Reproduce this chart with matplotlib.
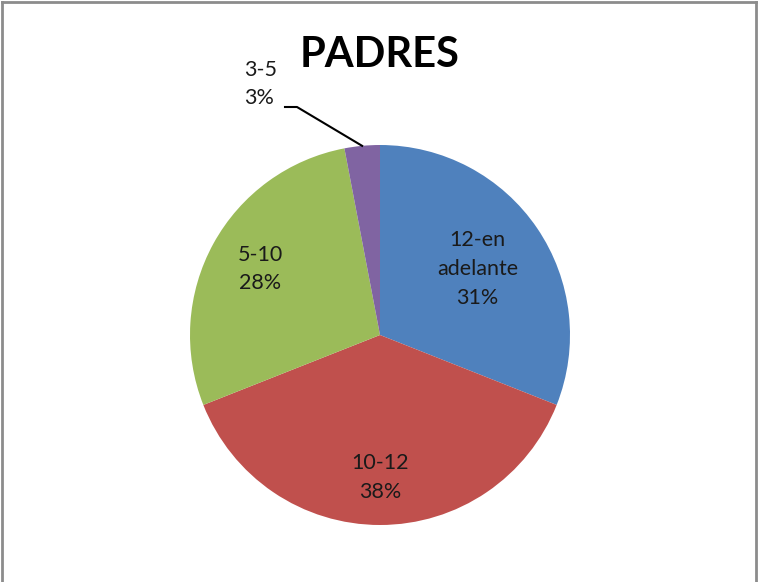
import numpy as np
import matplotlib.pyplot as plt
from matplotlib.lines import Line2D

# ================= 数据 =================
categories = ["12-en\nadelante", "10-12", "5-10", "3-5"]
values = [31, 38, 28, 3]
colors = ['#4F81BD', '#C0504D', '#9BBB59', '#8064A2']
title = "PADRES"

W, H = 758, 582
plt.rcParams['font.family'] = ['Lato', 'DejaVu Sans']

fig = plt.figure(figsize=(W / 100, H / 100), dpi=100)
ax = fig.add_axes([0, 0, 1, 1])

cx, cy, R = 380, H - 335, 190
wedges, _ = ax.pie(values, colors=colors, startangle=90, counterclock=False,
                   center=(cx, cy), radius=R, frame=True,
                   wedgeprops=dict(linewidth=0))
ax.set_xlim(0, W)
ax.set_ylim(0, H)
ax.set_aspect('equal')
ax.axis('off')

# 扇区内标签
dist = [0.62, 0.75, 0.72]
for w, lab, v, d in zip(wedges[:3], categories[:3], values[:3], dist):
    mid = np.deg2rad((w.theta1 + w.theta2) / 2)
    ax.text(cx + d * R * np.cos(mid), cy + d * R * np.sin(mid),
            f"{lab}\n{v}%", ha='center', va='center', fontsize=15.5,
            linespacing=1.55, color='#1a1a1a')

# 小扇区外部标签 + 引线
w = wedges[3]
mid = np.deg2rad((w.theta1 + w.theta2) / 2)
ex, ey = cx + R * np.cos(mid), cy + R * np.sin(mid)
ax.plot([ex, 297, 285], [ey, H - 107, H - 107], color='black', lw=1.5)
ax.text(244, H - 84, f"{categories[3]}\n{values[3]}%", ha='left', va='center',
        fontsize=15.5, linespacing=1.55, color='#1a1a1a')

ax.text(cx, H - 55, title, ha='center', va='center', fontsize=30,
        fontweight='bold', color='black')

# 外框
for xs, ys in [([1.5, 1.5], [0, H - 1.5]), ([755.5, 755.5], [0, H - 1.5]),
               ([1.5, 755.5], [H - 1.5, H - 1.5])]:
    fig.add_artist(Line2D(np.array(xs) / W, np.array(ys) / H,
                          color='#8c8c8c', lw=2))

fig.savefig("out.png", dpi=100)
